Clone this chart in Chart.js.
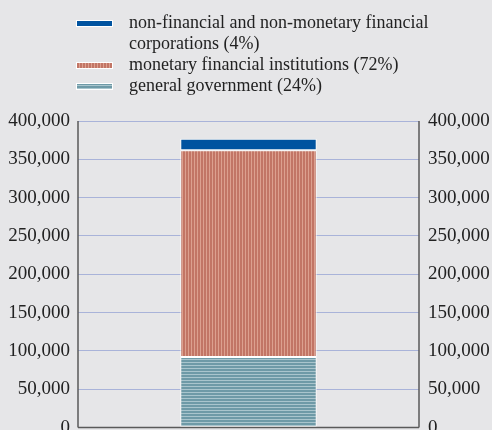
<!DOCTYPE html>
<html>
<head>
<meta charset="utf-8">
<script src="https://cdn.jsdelivr.net/npm/chart.js@4.4.1/dist/chart.umd.min.js"></script>
<style>
  html, body { margin: 0; padding: 0; background: #e6e6e8; overflow: hidden; }
  #wrap { position: relative; width: 492px; height: 430px; }
  #legend { position: absolute; left: 76px; top: 12px; font-family: "Liberation Serif", "DejaVu Serif", serif; font-size: 18px; color: #222; }
  .item { display: flex; align-items: flex-start; line-height: 21px; }
  .swatch { width: 37px; height: 7px; margin-top: 8px; margin-right: 16px; border: 1px solid #fff; box-sizing: border-box; flex: none; }
  .txt { width: 330px; }
</style>
</head>
<body>
<div id="wrap">
  <canvas id="chart"></canvas>
  <div id="legend"></div>
</div>
<script>
// one stacked column, values in EUR millions
const categories = ['total'];
const seriesNames = [
  'general government (24%)',
  'monetary financial institutions (72%)',
  'non-financial and non-monetary financial corporations (4%)'
];
const governmentValues = [92000];
const mfiValues = [270000];
const corporateValues = [15000];

const yTicks = [0, 50000, 100000, 150000, 200000, 250000, 300000, 350000, 400000];

// striped fills
function stripes(vertical, dark, light) {
  const c = document.createElement('canvas');
  c.width = 3; c.height = 3;
  const g = c.getContext('2d');
  g.fillStyle = light;
  g.fillRect(0, 0, 3, 3);
  g.fillStyle = dark;
  if (vertical) g.fillRect(0, 0, 2, 3); else g.fillRect(0, 0, 3, 2);
  return g.createPattern(c, 'repeat');
}
const redFill = stripes(true, '#c27565', '#dca08f');
const tealFill = stripes(false, '#6e9aa7', '#a9c5cd');
const blueFill = '#0053a0';

// legend (top item first)
const legendItems = [
  { label: seriesNames[2], css: blueFill },
  { label: seriesNames[1], css: 'repeating-linear-gradient(90deg, #c27565 0 2px, #dca08f 2px 3px)' },
  { label: seriesNames[0], css: 'repeating-linear-gradient(0deg, #a9c5cd 0 1px, #6e9aa7 1px 3px)' }
];
const legendEl = document.getElementById('legend');
legendItems.forEach(it => {
  const row = document.createElement('div');
  row.className = 'item';
  const sw = document.createElement('div');
  sw.className = 'swatch';
  sw.style.background = it.css;
  const t = document.createElement('div');
  t.className = 'txt';
  t.textContent = it.label;
  row.appendChild(sw);
  row.appendChild(t);
  legendEl.appendChild(row);
});

const canvas = document.getElementById('chart');
canvas.style.width = '492px';
canvas.style.height = '448px';

const tickFont = { family: '"Liberation Serif", serif', size: 19 };
const fmt = v => v.toLocaleString('en-US');

// frame: left, right and bottom lines
const framePlugin = {
  id: 'frame',
  afterDraw(chart) {
    const { ctx, chartArea: a } = chart;
    ctx.save();
    ctx.strokeStyle = '#5a5a5a';
    ctx.lineWidth = 1.5;
    ctx.beginPath();
    ctx.moveTo(a.left, a.top); ctx.lineTo(a.left, a.bottom);
    ctx.moveTo(a.right, a.top); ctx.lineTo(a.right, a.bottom);
    ctx.moveTo(a.left, a.bottom); ctx.lineTo(a.right, a.bottom);
    ctx.stroke();
    ctx.restore();
  }
};

new Chart(canvas, {
  type: 'bar',
  data: {
    labels: categories,
    datasets: [
      { label: seriesNames[0], data: governmentValues, backgroundColor: tealFill },
      { label: seriesNames[1], data: mfiValues, backgroundColor: redFill },
      { label: seriesNames[2], data: corporateValues, backgroundColor: blueFill }
    ].map(d => Object.assign(d, { borderColor: '#ffffff', borderWidth: 1, borderSkipped: false, categoryPercentage: 1, barPercentage: 0.4 }))
  },
  options: {
    responsive: false,
    animation: false,
    layout: { padding: { left: 0, right: 0, top: 121, bottom: 0 } },
    plugins: { legend: { display: false }, tooltip: { enabled: false } },
    scales: {
      x: {
        stacked: true,
        display: false
      },
      y: {
        stacked: true,
        min: 0, max: 400000,
        afterBuildTicks: s => { s.ticks = yTicks.map(v => ({ value: v })); },
        ticks: { color: '#222', font: tickFont, padding: 8, callback: fmt },
        grid: { color: '#a9b3d9', lineWidth: 1, drawTicks: false },
        border: { display: false },
        afterFit: s => { s.width = 78; }
      },
      y2: {
        position: 'right',
        min: 0, max: 400000,
        afterBuildTicks: s => { s.ticks = yTicks.map(v => ({ value: v })); },
        ticks: { color: '#222', font: tickFont, padding: 9, callback: fmt },
        grid: { display: false, drawTicks: false },
        border: { display: false },
        afterFit: s => { s.width = 73; }
      }
    }
  },
  plugins: [framePlugin]
});
</script>
</body>
</html>
